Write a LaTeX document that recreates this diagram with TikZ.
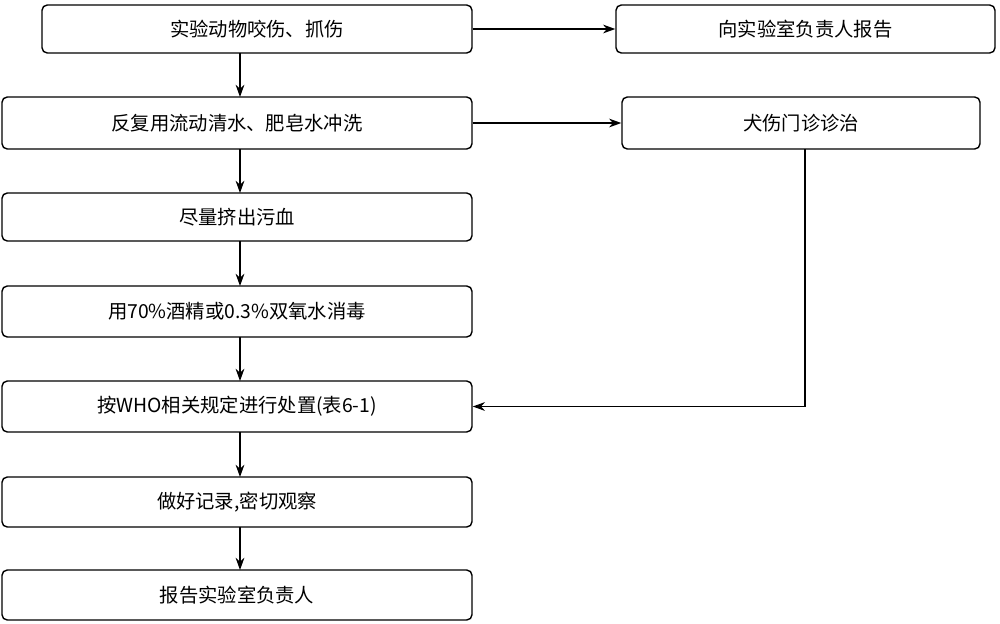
\documentclass[tikz,border=0pt]{standalone}
\usepackage{fontspec}
\newfontfamily\cjk{Noto Sans CJK SC}
\usetikzlibrary{arrows.meta}
\begin{document}
\begin{tikzpicture}[x=0.02cm,y=-0.02cm,
  bx/.style={draw,line width=0.8pt,rounded corners=3pt,inner sep=0pt,font=\cjk\fontsize{11}{13}\selectfont},
  ar/.style={line width=0.7pt,-{Stealth[length=7pt,width=5pt]}}]
\useasboundingbox (0,0) rectangle (1000,623);
\node[bx,minimum width=430*0.02cm,minimum height=48*0.02cm] (a) at (257,29) {实验动物咬伤、抓伤};
\node[bx,minimum width=379*0.02cm,minimum height=48*0.02cm] (r1) at (805.5,29) {向实验室负责人报告};
\node[bx,minimum width=470*0.02cm,minimum height=52*0.02cm] (b) at (237,123) {反复用流动清水、肥皂水冲洗};
\node[bx,minimum width=358*0.02cm,minimum height=52*0.02cm] (r2) at (801,123) {犬伤门诊诊治};
\node[bx,minimum width=470*0.02cm,minimum height=48*0.02cm] (c) at (237,217) {尽量挤出污血};
\node[bx,minimum width=470*0.02cm,minimum height=51*0.02cm] (d) at (237,311.5) {用70\%酒精或0.3\%双氧水消毒};
\node[bx,minimum width=470*0.02cm,minimum height=51*0.02cm] (e) at (237,406.5) {按WHO相关规定进行处置(表6-1)};
\node[bx,minimum width=470*0.02cm,minimum height=50*0.02cm] (f) at (237,502) {做好记录,密切观察};
\node[bx,minimum width=470*0.02cm,minimum height=50*0.02cm] (g) at (237,595) {报告实验室负责人};
\draw[ar] (240,53) -- (240,97);
\draw[ar] (a.east) -- (r1.west);
\draw[ar] (b.east) -- (r2.west);
\draw[ar] (240,149) -- (240,193);
\draw[ar] (240,241) -- (240,286);
\draw[ar] (240,337) -- (240,381);
\draw[ar] (240,432) -- (240,477);
\draw[ar] (240,527) -- (240,570);
\coordinate (k) at (805,406.5);
\draw[ar] (805,149) -- (k) -- (e.east);
\end{tikzpicture}
\end{document}
